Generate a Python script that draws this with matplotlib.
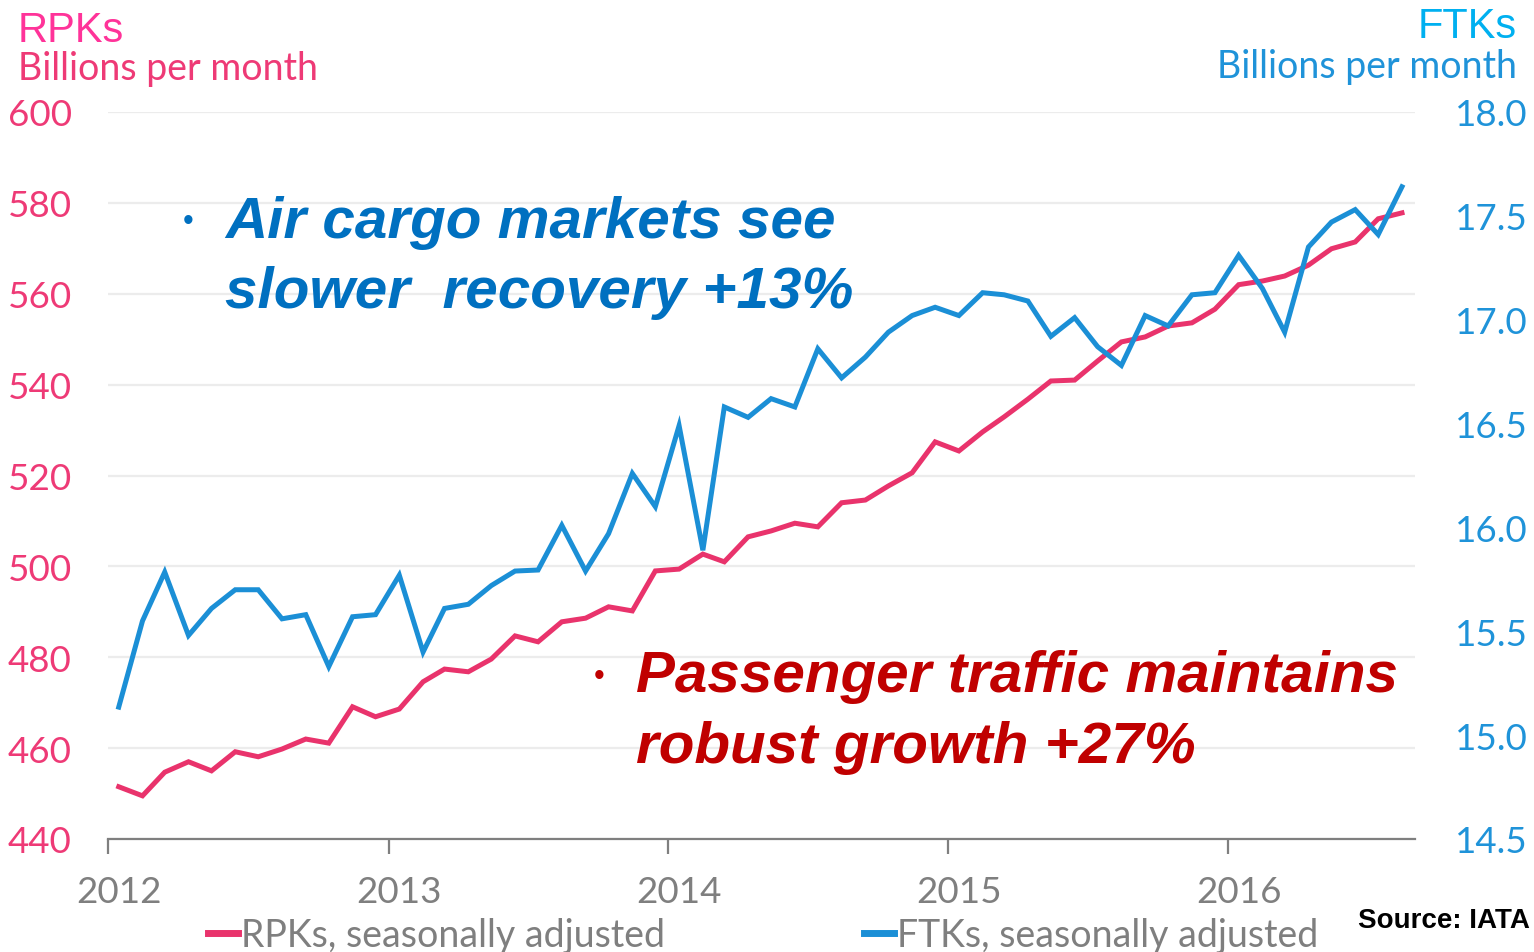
import numpy as np
import pandas as pd
import matplotlib
matplotlib.use("Agg")
import matplotlib.pyplot as plt

# monthly data, Jan 2012 - Aug 2016
months = pd.date_range("2012-01-01", "2016-08-01", freq="MS") + pd.Timedelta(days=14)

rpks = [451.5, 449.5, 454.7, 457.0, 455.0, 459.2, 458.1, 459.8, 462.0, 461.1, 469.1, 466.9,
        468.6, 474.6, 477.4, 476.8, 479.6, 484.7, 483.4, 487.8, 488.6, 491.1, 490.2, 499.0,
        499.4, 502.7, 501.0, 506.5, 507.8, 509.5, 508.7, 514.0, 514.6, 517.7, 520.6, 527.4,
        525.4, 529.6, 532.9, 536.8, 540.8, 541.0, 545.2, 549.4, 550.5, 552.9, 553.6, 556.6,
        562.0, 562.8, 563.9, 566.3, 569.9, 571.4, 576.5, 577.8]

ftks = [15.135, 15.55, 15.785, 15.48, 15.61, 15.70, 15.70, 15.56, 15.58, 15.33, 15.57, 15.58,
        15.77, 15.40, 15.61, 15.63, 15.72, 15.79, 15.795, 16.01, 15.79, 15.97, 16.26, 16.10,
        16.49, 15.89, 16.58, 16.53, 16.62, 16.58, 16.86, 16.72, 16.82, 16.94, 17.02, 17.06,
        17.02, 17.13, 17.12, 17.09, 16.92, 17.01, 16.87, 16.78, 17.02, 16.97, 17.12, 17.13,
        17.31, 17.15, 16.94, 17.35, 17.47, 17.53, 17.41, 17.64]

left_ticks = [440, 460, 480, 500, 520, 540, 560, 580, 600]
right_ticks = [14.5, 15.0, 15.5, 16.0, 16.5, 17.0, 17.5, 18.0]
years = [2012, 2013, 2014, 2015, 2016]

PINK_LINE = '#e9336c'
BLUE_LINE = '#1b8fd6'
PINK_TXT = '#ee3a76'
BLUE_TXT = '#1f93d9'
GRAY = '#7f7f7f'
FONT = 'Lato'
TICK_SIZE = 26.5

W, H = 1534, 953
fig = plt.figure(figsize=(W / 100, H / 100), dpi=100)
fig.patch.set_facecolor('white')
ax = fig.add_axes([108 / W, 1 - 840 / H, 1307 / W, 727 / H])
ax2 = ax.twinx()

ax.plot(months, rpks, color=PINK_LINE, lw=3.6, solid_joinstyle='miter', zorder=3)
ax2.plot(months, ftks, color=BLUE_LINE, lw=3.6, solid_joinstyle='miter', zorder=3)

ax.set_xlim(pd.Timestamp("2012-01-01"), pd.Timestamp("2016-09-01"))
ax.set_ylim(440, 600)
ax2.set_ylim(14.5, 18.0)

# grid from the left axis only
ax.set_yticks(left_ticks)
ax.yaxis.grid(True, color='#ececec', lw=1.6)
ax.set_axisbelow(True)

for a in (ax, ax2):
    for s in ('top', 'left', 'right'):
        a.spines[s].set_visible(False)
ax2.spines['bottom'].set_visible(False)
ax.spines['bottom'].set_color(GRAY)
ax.spines['bottom'].set_linewidth(1.6)

# year ticks at Jan 1, labels centred on mid-January
ax.set_xticks([pd.Timestamp(f"{y}-01-01") for y in years])
ax.set_xticklabels([])
ax.set_xticks([pd.Timestamp(f"{y}-01-15") for y in years], minor=True)
ax.set_xticklabels([str(y) for y in years], minor=True)
ax.tick_params(axis='x', which='major', length=11, width=1.6, color=GRAY, direction='out')
ax.tick_params(axis='x', which='minor', length=0, pad=26, labelsize=TICK_SIZE, labelcolor=GRAY)

# left labels are left-aligned near the figure edge
ax.tick_params(axis='y', length=0, labelsize=TICK_SIZE, labelcolor=PINK_TXT, pad=72)
for lab in ax.get_yticklabels():
    lab.set_horizontalalignment('left')
ax2.set_yticks(right_ticks)
ax2.set_yticklabels([f"{v:.1f}" for v in right_ticks])
ax2.tick_params(axis='y', length=0, labelsize=TICK_SIZE, labelcolor=BLUE_TXT, pad=29)

for lab in ax.get_xticklabels(minor=True) + ax.get_yticklabels() + ax2.get_yticklabels():
    lab.set_fontfamily(FONT)

# axis titles
fig.text(18 / W, 1 - 42 / H, "RPKs", color='#ff3399', fontsize=30,
         family='Liberation Sans', va='baseline')
fig.text(18 / W, 1 - 80 / H, "Billions per month", color=PINK_TXT, fontsize=27,
         family=FONT, va='baseline')
fig.text(1517 / W, 1 - 38 / H, "FTKs", color='#00b0f0', fontsize=30,
         family='Liberation Sans', va='baseline', ha='right')
fig.text(1517 / W, 1 - 78 / H, "Billions per month", color=BLUE_TXT, fontsize=27,
         family=FONT, va='baseline', ha='right')

# annotations
ann = dict(fontsize=42, fontweight='bold', fontstyle='italic', family='Liberation Sans',
           va='baseline')
fig.text(183 / W, 1 - 230 / H, "\u2022", color='#0070c0', fontsize=22, family='Liberation Sans')
fig.text(225 / W, 1 - 238 / H, "Air cargo markets see", color='#0070c0', **ann)
fig.text(225 / W, 1 - 308 / H, "slower  recovery +13%", color='#0070c0', **ann)
fig.text(594 / W, 1 - 685 / H, "\u2022", color='#c00000', fontsize=22, family='Liberation Sans')
fig.text(636 / W, 1 - 692 / H, "Passenger traffic maintains", color='#c00000', **ann)
fig.text(636 / W, 1 - 763 / H, "robust growth +27%", color='#c00000', **ann)

# legend
h1, = ax.plot([], [], color=PINK_LINE, lw=5)
h2, = ax.plot([], [], color=BLUE_LINE, lw=5)
leg = fig.legend([h1, h2], ["RPKs, seasonally adjusted", "FTKs, seasonally adjusted"],
                 loc='center left', bbox_to_anchor=(208 / W, 1 - 936 / H), ncol=2,
                 frameon=False, handlelength=0.8, handletextpad=0.08, columnspacing=5.3,
                 borderaxespad=0, borderpad=0, prop={'family': FONT, 'size': 27})
for t in leg.get_texts():
    t.set_color(GRAY)

fig.text(1530 / W, 1 - 928 / H, "Source: IATA", color='black', fontsize=20,
         fontweight='bold', family='Liberation Sans', va='baseline', ha='right')

fig.savefig("out.png", dpi=100, facecolor='white')
